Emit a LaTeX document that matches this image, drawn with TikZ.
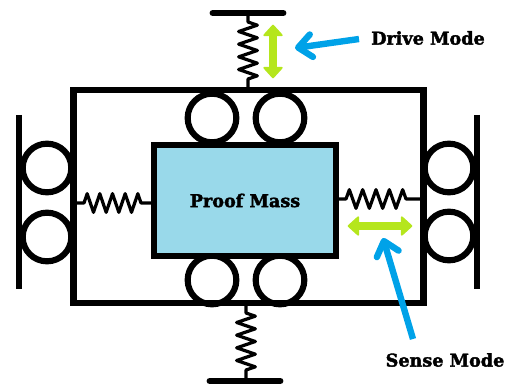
\documentclass[tikz,border=0pt]{standalone}
\usepackage{fontspec}
\usepackage{xcolor}
\usetikzlibrary{arrows.meta,decorations.pathmorphing}
\newfontfamily\labelfont{DejaVu Serif}[BoldFont={DejaVu Serif Bold},BoldFeatures={FakeBold=2.2}]
\definecolor{massblue}{HTML}{99D9EA}
\definecolor{modegreen}{HTML}{B5E61D}
\definecolor{modeblue}{HTML}{00A2E8}
\tikzset{
  roller/.style={circle, draw=black, line width=4.6pt, fill=white, minimum size=36.5pt, inner sep=0pt},
  wall/.style={black, line width=5.2pt},
  spring/.style={black, line width=2.4pt, line join=round, decorate, decoration={zigzag, amplitude=7pt, segment length=#1, pre length=6pt, post length=6pt}},
  greenarrow/.style={<->, >={Triangle[round, length=9pt, width=16pt, line width=1.5pt]}, modegreen, line width=5.6pt, shorten >=0.5pt, shorten <=0.5pt},
  bluearrow/.style={->, >={Straight Barb[round, length=10pt, width=17pt]}, modeblue, line width=4.8pt},
  modelabel/.style={font=\labelfont\bfseries\fontsize{13.2pt}{15pt}\selectfont, text=black, inner sep=0pt}
}
\begin{document}
\begin{tikzpicture}[x=0.75pt,y=-0.75pt]
  \useasboundingbox (0,0) rectangle (511,385);

  % rollers
  \node[roller] (rt1) at (212,118) {};
  \node[roller] (rt2) at (280,118) {};
  \node[roller] (rb1) at (212,280) {};
  \node[roller] (rb2) at (280,280) {};
  \node[roller] (rl1) at (47,168) {};
  \node[roller] (rl2) at (47,237) {};
  \node[roller] (rr1) at (449,168) {};
  \node[roller] (rr2) at (449,236) {};

  % frame and mass
  \node[draw=black, line width=4.9pt, minimum width=262.5pt, minimum height=160pt, inner sep=0pt] (frame) at (248.5,196.5) {};
  \node[draw=black, fill=massblue, line width=4.6pt, minimum width=136.5pt, minimum height=83.25pt, inner sep=0pt, modelabel] (mass) at (245,200.5) {Proof Mass};

  % fixed walls
  \draw[wall, line cap=round] (213,13) coordinate (topa) -- (283,13) coordinate (topb);
  \draw[wall, line cap=round] (210,381) coordinate (bota) -- (280,381) coordinate (botb);
  \draw[wall] (19,115) coordinate (la) -- (19,289) coordinate (lb);
  \draw[wall] (477,115) coordinate (ra) -- (477,289) coordinate (rb);

  % springs
  \coordinate (st1) at (248,14);
  \coordinate (st2) at (248,88);
  \coordinate (sb1) at (246,305);
  \coordinate (sb2) at (246,380);
  \coordinate (sl1) at (76,203);
  \coordinate (sl2) at (152,203);
  \coordinate (sr1) at (338,199);
  \coordinate (sr2) at (420,199);
  \draw[spring=9.5pt] (st1) -- (st2);
  \draw[spring=9.5pt] (sb1) -- (sb2);
  \draw[spring=9.5pt] (sl1) -- (sl2);
  \draw[spring=10pt] (sr1) -- (sr2);

  % mode arrows
  \coordinate (g1) at (273,24);
  \coordinate (g2) at (273,79);
  \coordinate (g3) at (347,226);
  \coordinate (g4) at (413,226);
  \draw[greenarrow] (g1) -- (g2);
  \draw[greenarrow] (g3) -- (g4);

  \node[modelabel] (drive) at (428,38) {Drive Mode};
  \node[modelabel] (sense) at (445,360) {Sense Mode};
  \coordinate (b1) at (359,39);
  \coordinate (b2) at (295,48);
  \coordinate (b3) at (413,339);
  \coordinate (b4) at (383,238);
  \draw[bluearrow] (b1) -- (b2);
  \draw[bluearrow] (b3) -- (b4);
\end{tikzpicture}
\end{document}
